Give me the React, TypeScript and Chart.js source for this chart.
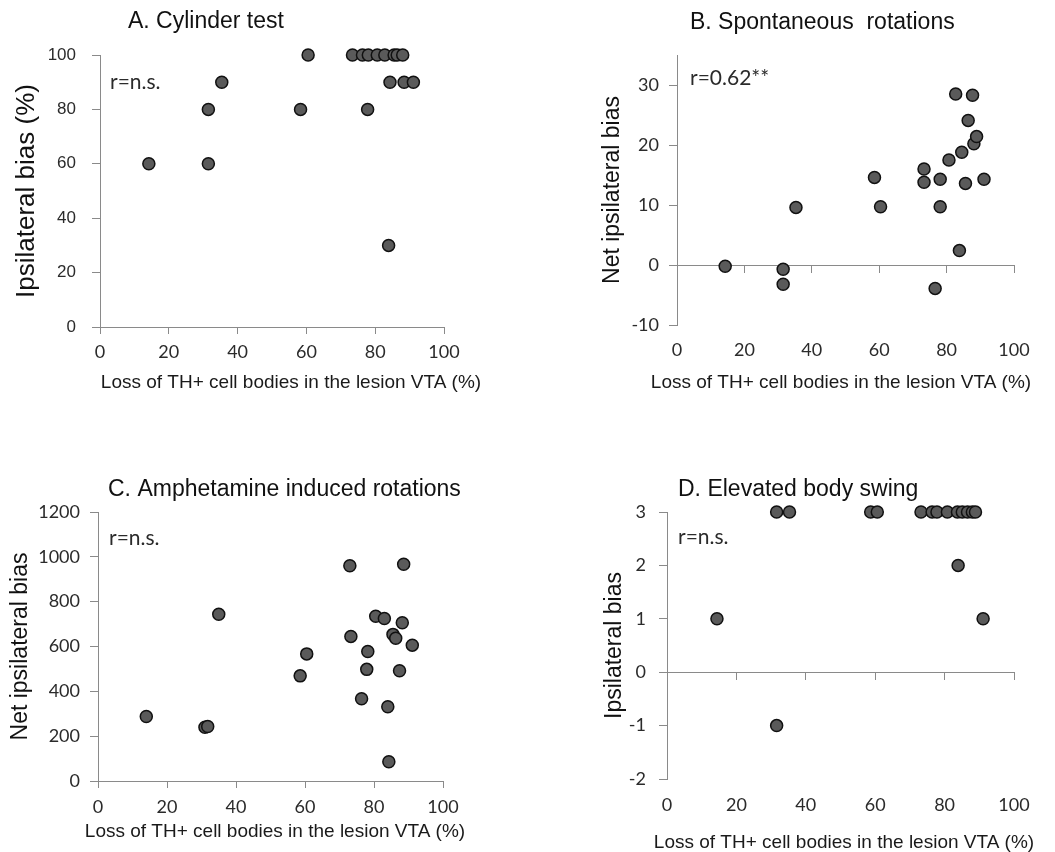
import React, { useEffect, useRef } from "react";
import { Chart, registerables } from "chart.js";

Chart.register(...registerables);

// ---------- data ----------
const xTickLabels = [0, 20, 40, 60, 80, 100];
const xAxisTitle = "Loss of TH+ cell bodies in the lesion VTA (%)";

const lossA = [14.2, 31.5, 31.5, 35.4, 58.3, 60.5, 73.4, 76.3, 78.0, 80.6, 82.8, 85.5, 86.4, 88.0, 77.8, 84.3, 88.4, 91.1, 83.9];
const cylinderBias = [60, 60, 80, 90, 80, 100, 100, 100, 100, 100, 100, 100, 100, 100, 80, 90, 90, 90, 30];

const lossB = [14.3, 31.5, 31.5, 35.3, 58.6, 60.4, 73.3, 73.3, 78.1, 78.1, 76.6, 80.7, 82.7, 84.5, 83.8, 85.6, 86.4, 87.7, 88.1, 88.9, 91.1];
const spontaneousBias = [-0.2, -0.7, -3.2, 9.6, 14.6, 9.7, 16.0, 13.8, 14.3, 9.7, -3.9, 17.5, 28.5, 18.8, 2.4, 13.6, 24.1, 28.3, 20.2, 21.4, 14.3];

const lossC = [14.0, 31.0, 31.8, 35.0, 58.6, 60.5, 73.0, 73.3, 76.4, 77.9, 78.2, 80.5, 83.0, 84.0, 84.3, 85.5, 86.3, 87.4, 88.2, 88.6, 91.1];
const amphetamineBias = [288, 240, 243, 744, 469, 567, 960, 645, 367, 498, 578, 735, 725, 331, 86, 654, 637, 492, 706, 967, 606];

const lossD = [14.4, 31.6, 31.6, 35.3, 58.7, 60.6, 73.2, 76.4, 77.8, 80.8, 83.7, 85.1, 86.6, 88.0, 88.9, 83.9, 91.1];
const swingBias = [1, -1, 3, 3, 3, 3, 3, 3, 3, 3, 3, 3, 3, 3, 3, 2, 1];

const titles = ["A. Cylinder test", "B. Spontaneous  rotations", "C. Amphetamine induced rotations", "D. Elevated body swing"];
const notes = ["r=n.s.", "r=0.62**", "r=n.s.", "r=n.s."];
const yTitles = ["Ipsilateral bias (%)", "Net ipsilateral bias", "Net ipsilateral bias", "Ipsilateral bias"];

// ---------- styles ----------
const AXIS = "#8a8a8a";
const TXT = "#2b2b2b";
const SANS = "'Liberation Sans', Arial, sans-serif";
const CAL = "Lato, 'Open Sans', sans-serif";

const panelText = {
  id: "panelText",
  afterDraw(chart: any, _args: any, opts: any) {
    const ctx = chart.ctx;
    for (const it of opts.items || []) {
      ctx.save();
      ctx.font = it.font;
      ctx.fillStyle = it.color;
      ctx.textAlign = it.align || "left";
      ctx.textBaseline = "middle";
      ctx.fillText(it.text, it.x, it.y);
      ctx.restore();
    }
  },
};

type Panel = {
  left: number; top: number; w: number; h: number;
  xs: number[]; ys: number[];
  yMin: number; yMax: number; yStep: number;
  yW: number; padTop: number; padRight: number; xH: number;
  yTickPad: number; xTickPad: number; yTitlePad: number;
  zeroAxis: boolean; yTickFont: any; yTitleSize: number;
  idx: number;
  titlePos: [number, number]; notePos: [number, number]; xTitlePos: [number, number];
};

const panels: Panel[] = [
  {
    idx: 0, left: 0, top: 0, w: 527, h: 420, xs: lossA, ys: cylinderBias,
    yMin: 0, yMax: 100, yStep: 20, yW: 100, padTop: 55, padRight: 83, xH: 93,
    yTickPad: 16, xTickPad: 7, yTitlePad: 11, zeroAxis: false, yTitleSize: 26,
    yTickFont: { family: SANS, size: 17 }, titlePos: [128, 22], notePos: [110, 82], xTitlePos: [291, 383],
  },
  {
    idx: 1, left: 527, top: 0, w: 528, h: 420, xs: lossB, ys: spontaneousBias,
    yMin: -10, yMax: 35, yStep: 10, yW: 150, padTop: 55, padRight: 41, xH: 95,
    yTickPad: 10, xTickPad: 14, yTitlePad: 72, zeroAxis: true, yTitleSize: 23,
    yTickFont: { family: CAL, size: 18 }, titlePos: [163, 23], notePos: [163, 78], xTitlePos: [314, 383],
  },
  {
    idx: 2, left: 0, top: 420, w: 527, h: 432, xs: lossC, ys: amphetamineBias,
    yMin: 0, yMax: 1200, yStep: 200, yW: 98, padTop: 92, padRight: 84, xH: 71,
    yTickPad: 10, xTickPad: 8, yTitlePad: 7, zeroAxis: false, yTitleSize: 23,
    yTickFont: { family: CAL, size: 18 }, titlePos: [108, 70], notePos: [109, 118], xTitlePos: [275, 412],
  },
  {
    idx: 3, left: 527, top: 420, w: 528, h: 432, xs: lossD, ys: swingBias,
    yMin: -2, yMax: 3, yStep: 1, yW: 140, padTop: 92, padRight: 41, xH: 73,
    yTickPad: 13, xTickPad: 15, yTitlePad: 74, zeroAxis: true, yTitleSize: 23,
    yTickFont: { family: CAL, size: 18 }, titlePos: [151, 70], notePos: [151, 117], xTitlePos: [317, 423],
  },
];

function buildConfig(p: Panel): any {
  const points = p.xs.map((x, i) => ({ x, y: p.ys[i] }));
  const plain = (v: any) => String(v);
  const scales: any = {
    x: {
      type: "linear",
      position: "bottom",
      min: xTickLabels[0],
      max: xTickLabels[xTickLabels.length - 1],
      afterBuildTicks: (s: any) => { s.ticks = xTickLabels.map((v) => ({ value: v })); },
      afterFit: (s: any) => { s.height = p.xH; },
      ticks: { font: { family: CAL, size: 18 }, color: TXT, padding: p.xTickPad, maxRotation: 0, callback: plain },
      grid: p.zeroAxis
        ? { display: false, drawTicks: false }
        : { drawOnChartArea: false, drawTicks: true, tickLength: 7, color: AXIS },
      border: { display: !p.zeroAxis, color: AXIS, width: 1 },
      title: { display: false },
    },
    y: {
      type: "linear",
      position: "left",
      min: p.yMin,
      max: p.yMax,
      afterFit: (s: any) => { s.width = p.yW; },
      ticks: { stepSize: p.yStep, includeBounds: false, font: p.yTickFont, color: TXT, padding: p.yTickPad, callback: plain },
      grid: { drawOnChartArea: false, drawTicks: true, tickLength: 8, color: AXIS },
      border: { display: true, color: AXIS, width: 1 },
      title: {
        display: true, text: yTitles[p.idx], color: "#111",
        font: { family: SANS, size: p.yTitleSize }, padding: { top: p.yTitlePad, bottom: 0 },
      },
    },
  };
  if (p.zeroAxis) {
    scales.x0 = {
      type: "linear",
      axis: "x",
      position: { y: 0 },
      min: xTickLabels[0],
      max: xTickLabels[xTickLabels.length - 1],
      afterBuildTicks: (s: any) => { s.ticks = xTickLabels.map((v) => ({ value: v })); },
      ticks: { display: false },
      grid: { drawOnChartArea: false, drawTicks: true, tickLength: 7, color: AXIS },
      border: { display: true, color: AXIS, width: 1 },
    };
  }
  return {
    type: "scatter",
    data: {
      datasets: [
        {
          data: points,
          clip: false,
          pointRadius: 6,
          pointHoverRadius: 6,
          pointBackgroundColor: "#5a5a5a",
          pointBorderColor: "#111111",
          pointBorderWidth: 1.5,
          showLine: false,
        },
      ],
    },
    options: {
      responsive: false,
      animation: false,
      devicePixelRatio: 1,
      layout: { padding: { left: 0, top: p.padTop, right: p.padRight, bottom: 0 } },
      scales,
      plugins: {
        legend: { display: false },
        tooltip: { enabled: false },
        panelText: {
          items: [
            { text: titles[p.idx], x: p.titlePos[0], y: p.titlePos[1], font: `23px ${SANS}`, color: "#111" },
            { text: notes[p.idx], x: p.notePos[0], y: p.notePos[1], font: `21px ${CAL}`, color: TXT },
            { text: xAxisTitle, x: p.xTitlePos[0], y: p.xTitlePos[1], font: `19px ${SANS}`, color: "#1a1a1a", align: "center" },
          ],
        },
      },
    },
    plugins: [panelText],
  };
}

function PanelChart({ p }: { p: Panel }) {
  const ref = useRef<HTMLCanvasElement | null>(null);
  useEffect(() => {
    if (!ref.current) return;
    const chart = new Chart(ref.current, buildConfig(p));
    return () => chart.destroy();
  }, [p]);
  return (
    <canvas
      ref={ref}
      width={p.w}
      height={p.h}
      style={{ position: "absolute", left: p.left, top: p.top, width: p.w, height: p.h }}
    />
  );
}

export default function App() {
  return (
    <div
      style={{
        position: "absolute", left: 0, top: 0, width: 1055, height: 852,
        overflow: "hidden", background: "#ffffff",
      }}
    >
      {panels.map((p) => (
        <PanelChart key={p.idx} p={p} />
      ))}
    </div>
  );
}
